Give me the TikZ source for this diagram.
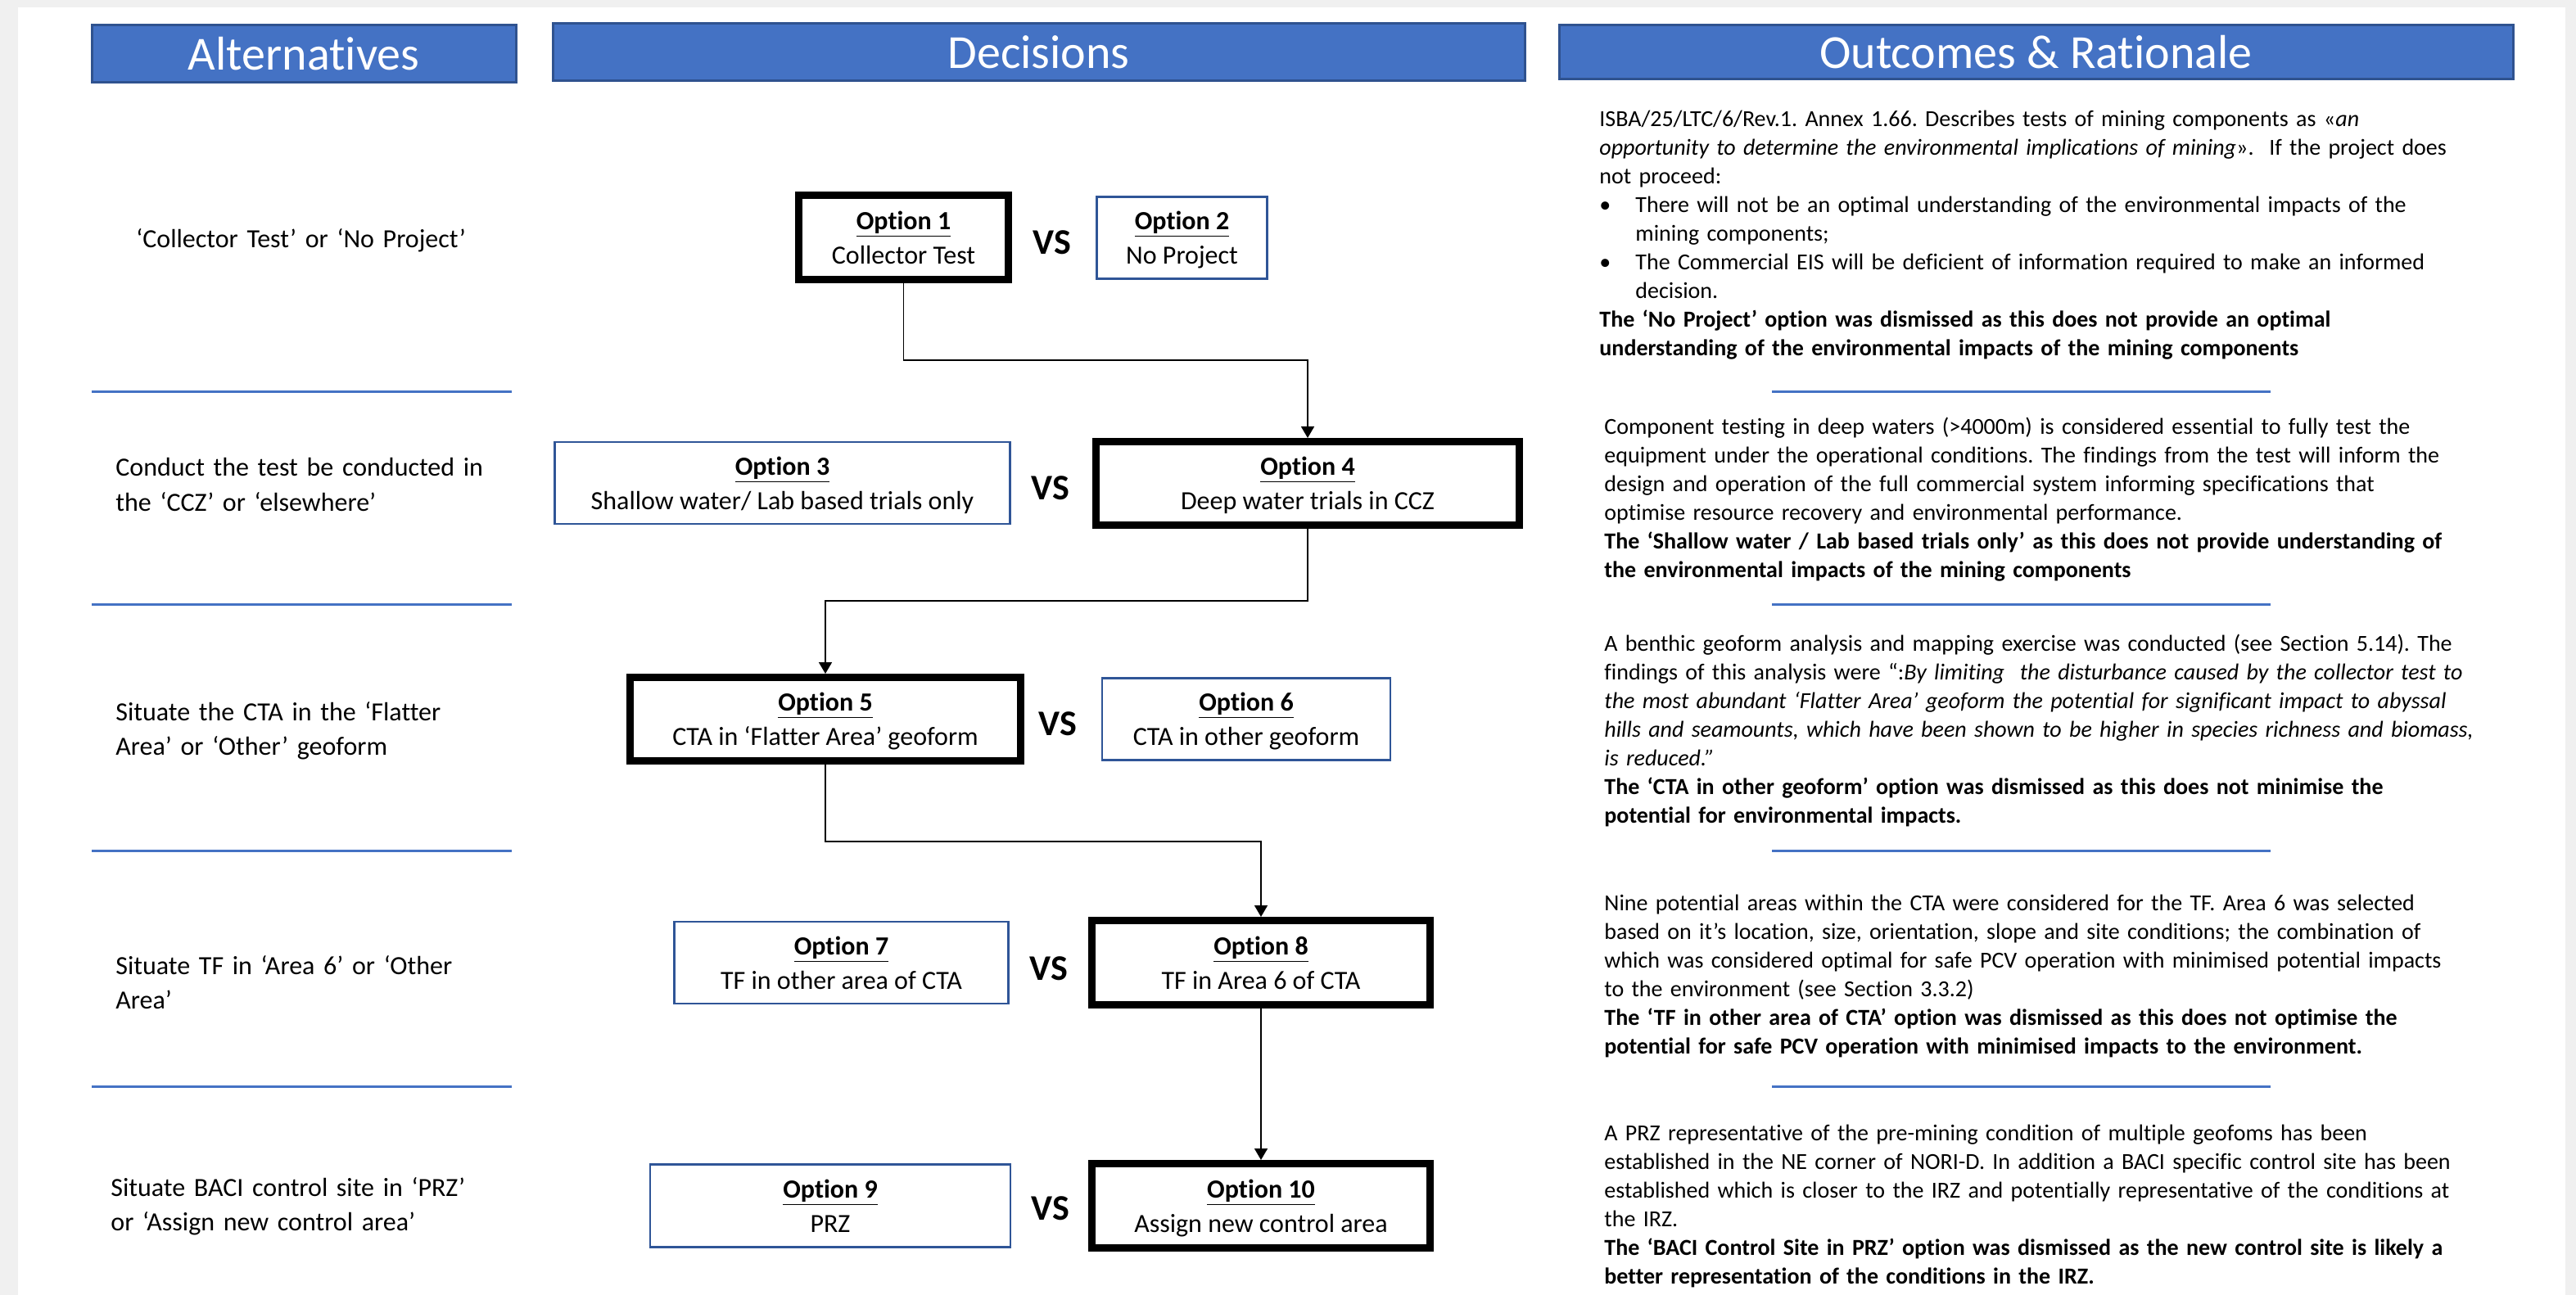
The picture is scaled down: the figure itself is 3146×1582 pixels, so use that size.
\documentclass[tikz,border=0pt]{standalone}
\usepackage{fontspec}
\setmainfont{Carlito}[Ligatures={NoCommon,NoContextual,NoRare},Contextuals={NoAlternate}]
\usetikzlibrary{arrows.meta}
\definecolor{hdrblue}{HTML}{4472C4}
\definecolor{hdredge}{HTML}{2F528F}
\definecolor{boxblue}{HTML}{2F5597}
\definecolor{pagegray}{HTML}{F0F0F0}
\newcommand{\optul}[1]{\underline{\textbf{#1}}}
\frenchspacing
\begin{document}
\frenchspacing
\begin{tikzpicture}[x=0.5pt,y=-0.5pt,
  hdr/.style={fill=hdrblue,draw=hdredge,line width=1.5pt,text=white,font=\fontsize{29}{34}\selectfont,inner sep=0pt},
  thickbox/.style={draw=black,line width=4.5pt,fill=white,align=center,inner sep=0pt,font=\fontsize{16}{21}\selectfont,text depth=0pt},
  thinbox/.style={draw=boxblue,line width=1.2pt,fill=white,align=center,inner sep=0pt,font=\fontsize{16}{21}\selectfont,text depth=0pt},
  vs/.style={font=\bfseries\fontsize{22}{26}\selectfont,inner sep=0pt},
  alttext/.style={anchor=base west,text width=260pt,align=left,inner sep=0pt,font=\fontsize{16}{21}\selectfont\frenchspacing},
  outtext/.style={anchor=base west,text width=570pt,align=left,inner sep=0pt,font=\fontsize{14}{17.5}\selectfont\frenchspacing},
  sepline/.style={draw=hdrblue,line width=1.5pt},
  conn/.style={draw=black,line width=0.8pt,-{Triangle[length=7pt,width=8pt]}}
]
% page
\fill[pagegray] (0,0) rectangle (3146,1582);
\fill[white] (22,9) rectangle (3133,1582);
\useasboundingbox (0,0) rectangle (3146,1582);

% headers
\node[hdr,minimum width=259pt,minimum height=35pt] (hA) at (371,66) {Alternatives};
\node[hdr,minimum width=593.5pt,minimum height=35pt] (hD) at (1268.5,64) {Decisions};
\node[hdr,minimum width=582.5pt,minimum height=33pt] (hO) at (2486.5,64) {Outcomes \& Rationale};

% separators
\foreach \yy in {479,738,1039,1327} {
  \draw[sepline] (112,\yy) -- (625,\yy);
  \draw[sepline] (2164,\yy) -- (2773,\yy);
}

% alternatives
\node[alttext] (a1) at (166,303) {‘Collector Test’ or ‘No Project’};
\node[alttext] (a2) at (141,582) {Conduct the test be conducted in\\the ‘CCZ’ or ‘elsewhere’};
\node[alttext] (a3) at (141,880) {Situate the CTA in the ‘Flatter\\Area’ or ‘Other’ geoform};
\node[alttext] (a4) at (141,1190) {Situate TF in ‘Area 6’ or ‘Other\\Area’};
\node[alttext] (a5) at (135,1461) {Situate BACI control site in ‘PRZ’\\or ‘Assign new control area’};

% decision boxes
\node[thickbox,minimum width=128pt,minimum height=51.5pt] (o1) at (1103.5,290) {\optul{Option 1}\\Collector Test};
\node[thinbox,minimum width=104pt,minimum height=50pt] (o2) at (1443.5,290.5) {\optul{Option 2}\\No Project};
\node[vs] (vs1) at (1285,296) {VS};

\node[thinbox,minimum width=278pt,minimum height=50pt] (o3) at (955.5,590) {\optul{Option 3}\\Shallow water/ Lab based trials only};
\node[thickbox,minimum width=258.5pt,minimum height=51pt] (o4) at (1597,590.5) {\optul{Option 4}\\Deep water trials in CCZ};
\node[vs] (vs2) at (1283,596) {VS};

\node[thickbox,minimum width=238.5pt,minimum height=51pt] (o5) at (1008,878.5) {\optul{Option 5}\\CTA in ‘Flatter Area’ geoform};
\node[thinbox,minimum width=175.75pt,minimum height=50pt] (o6) at (1522,878.5) {\optul{Option 6}\\CTA in other geoform};
\node[vs] (vs3) at (1292,884) {VS};

\node[thinbox,minimum width=204pt,minimum height=50pt] (o7) at (1027.5,1176) {\optul{Option 7}\\TF in other area of CTA};
\node[thickbox,minimum width=206.5pt,minimum height=51.5pt] (o8) at (1540,1176) {\optul{Option 8}\\TF in Area 6 of CTA};
\node[vs] (vs4) at (1281,1183) {VS};

\node[thinbox,minimum width=219.75pt,minimum height=50.5pt] (o9) at (1014,1473) {\optul{Option 9}\\PRZ};
\node[thickbox,minimum width=206.5pt,minimum height=51.5pt] (o10) at (1540,1473) {\optul{Option 10}\\Assign new control area};
\node[vs] (vs5) at (1283,1476) {VS};

% connectors
\coordinate (b1) at (0,440);
\coordinate (b2) at (0,734);
\coordinate (b3) at (0,1028);
\draw[conn] (o1.south) -- (o1.south |- b1) -| (o4.north);
\draw[conn] (o4.south) -- (o4.south |- b2) -| (o5.north);
\draw[conn] (o5.south) -- (o5.south |- b3) -| (o8.north);
\draw[conn] (o8.south) -- (o10.north);

% outcomes
\node[outtext] (t1) at (1953,155) {ISBA/25/LTC/6/Rev.1. Annex 1.66. Describes tests of mining components as «\textit{an}\\
\textit{opportunity to determine the environmental implications of mining}».~ If the project does\\
not proceed:\\
\makebox[22pt][l]{•}There will not be an optimal understanding of the environmental impacts of the\\
\hspace*{22pt}mining components;\\
\makebox[22pt][l]{•}The Commercial EIS will be deficient of information required to make an informed\\
\hspace*{22pt}decision.\\
\textbf{The ‘No Project’ option was dismissed as this does not provide an optimal}\\
\textbf{understanding of the environmental impacts of the mining components}};

\node[outtext] (t2) at (1959,531) {Component testing in deep waters (>4000m) is considered essential to fully test the\\
equipment under the operational conditions. The findings from the test will inform the\\
design and operation of the full commercial system informing specifications that\\
optimise resource recovery and environmental performance.\\
\textbf{The ‘Shallow water / Lab based trials only’ as this does not provide understanding of}\\
\textbf{the environmental impacts of the mining components}};

\node[outtext] (t3) at (1959,795) {A benthic geoform analysis and mapping exercise was conducted (see Section 5.14). The\\
findings of this analysis were “:\textit{By limiting~ the disturbance caused by the collector test to}\\
\textit{the most abundant ‘Flatter Area’ geoform the potential for significant impact to abyssal}\\
\textit{hills and seamounts, which have been shown to be higher in species richness and biomass,}\\
\textit{is reduced.”}\\
\textbf{The ‘CTA in other geoform’ option was dismissed as this does not minimise the}\\
\textbf{potential for environmental impacts.}};

\node[outtext] (t4) at (1959,1112) {Nine potential areas within the CTA were considered for the TF. Area 6 was selected\\
based on it’s location, size, orientation, slope and site conditions; the combination of\\
which was considered optimal for safe PCV operation with minimised potential impacts\\
to the environment (see Section 3.3.2)\\
\textbf{The ‘TF in other area of CTA’ option was dismissed as this does not optimise the}\\
\textbf{potential for safe PCV operation with minimised impacts to the environment.}};

\node[outtext] (t5) at (1959,1393) {A PRZ representative of the pre-mining condition of multiple geofoms has been\\
established in the NE corner of NORI-D. In addition a BACI specific control site has been\\
established which is closer to the IRZ and potentially representative of the conditions at\\
the IRZ.\\
\textbf{The ‘BACI Control Site in PRZ’ option was dismissed as the new control site is likely a}\\
\textbf{better representation of the conditions in the IRZ.}};
\end{tikzpicture}
\end{document}
